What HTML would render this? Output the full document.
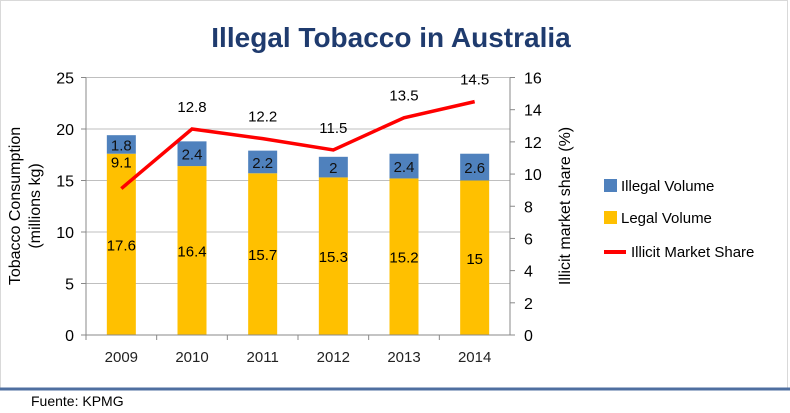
<!DOCTYPE html>
<html><head><meta charset="utf-8"><style>
body{margin:0;background:#fff;width:790px;height:408px;overflow:hidden;font-family:"Liberation Sans",sans-serif}
svg text{font-family:"Liberation Sans",sans-serif}
</style></head><body>
<svg width="790" height="408">
<rect x="0.5" y="0.5" width="787" height="388" fill="#fff" stroke="#d9d9d9"/>
<text x="391" y="47" text-anchor="middle" font-size="28" font-weight="bold" fill="#1f3b6e">Illegal Tobacco in Australia</text>
<g id="grid"></g><g id="bars"></g><g id="line"></g><g id="axes"></g>
<text transform="translate(20,206) rotate(-90)" text-anchor="middle" font-size="16" fill="#000">Tobacco Consumption</text>
<text transform="translate(40,206) rotate(-90)" text-anchor="middle" font-size="16" fill="#000">(millions kg)</text>
<text transform="translate(570,206) rotate(-90)" text-anchor="middle" font-size="16" fill="#000">Illicit market share (%)</text>
<rect x="604" y="179" width="13" height="13" fill="#4f81bd"/>
<text x="621" y="191" font-size="15">Illegal Volume</text>
<rect x="604" y="211" width="13" height="13" fill="#ffc000"/>
<text x="621" y="223" font-size="15">Legal Volume</text>
<line x1="604" y1="252" x2="626" y2="252" stroke="#ff0000" stroke-width="4"/>
<text x="631" y="257" font-size="15">Illicit Market Share</text>
<line x1="0" y1="389" x2="790" y2="389" stroke="#4f6fa0" stroke-width="3"/>
<text x="31" y="406" font-size="14">Fuente: KPMG</text>
</svg>
<script>
const years=["2009","2010","2011","2012","2013","2014"];
const legal=[17.6,16.4,15.7,15.3,15.2,15];
const illegal=[1.8,2.4,2.2,2,2.4,2.6];
const share=[9.1,12.8,12.2,11.5,13.5,14.5];
const leftTicks=[0,5,10,15,20,25];
const rightTicks=[0,2,4,6,8,10,12,14,16];
const NS="http://www.w3.org/2000/svg";
const X0=86,X1=510,Y0=335,Y1=77.5;
const cw=(X1-X0)/years.length;
const xc=i=>X0+cw*(i+0.5);
const yL=v=>Y0-(v/25)*(Y0-Y1);
const yR=v=>Y0-(v/16)*(Y0-Y1);
function mk(tag,attrs,parent,txt){const e=document.createElementNS(NS,tag);for(const k in attrs)e.setAttribute(k,attrs[k]);if(txt!==undefined)e.textContent=txt;document.getElementById(parent).appendChild(e);return e;}
leftTicks.forEach(t=>{
 if(t>0){const g=mk('line',{x1:X0,x2:X1,y1:yL(t),y2:yL(t),stroke:'#bfbfbf'},'grid');
 
 }
 const l=mk('text',{x:X0-12,y:yL(t)+6,'text-anchor':'end','font-size':16},'axes',t);
 
 
 const k=mk('line',{x1:X0-5,x2:X0,y1:yL(t),y2:yL(t),stroke:'#888'},'axes');
 
 
});
rightTicks.forEach(t=>{
 const l=mk('text',{x:X1+14,y:yR(t)+6,'text-anchor':'start','font-size':16},'axes',t);
 
 
 const k=mk('line',{x1:X1,x2:X1+5,y1:yR(t),y2:yR(t),stroke:'#888'},'axes');
 
 
});
[['x-axis',X0,Y0,X1,Y0],['y-axis',X0,Y1,X0,Y0],['y2-axis',X1,Y1,X1,Y0]].forEach(a=>{
 const l=mk('line',{x1:a[1],y1:a[2],x2:a[3],y2:a[4],stroke:'#888'},'axes');
 
 
});
const bw=29;
years.forEach((y,i)=>{
 const k=mk('line',{x1:X0+cw*i,x2:X0+cw*i,y1:Y0,y2:Y0+5,stroke:'#888'},'axes');
 
 
 const xl=mk('text',{x:xc(i),y:Y0+27,'text-anchor':'middle','font-size':15,fill:'#222'},'axes',y);
 
 
 const b1=mk('rect',{x:xc(i)-bw/2,y:yL(legal[i]),width:bw,height:Y0-yL(legal[i]),fill:'#ffc000'},'bars');
 
 
 const top=legal[i]+illegal[i];
 const b2=mk('rect',{x:xc(i)-bw/2,y:yL(top),width:bw,height:yL(legal[i])-yL(top),fill:'#4f81bd'},'bars');
 
 
 const t1=mk('text',{x:xc(i),y:yL(legal[i]/2)+6,'text-anchor':'middle','font-size':15},'bars',legal[i]);
 
 
 const t2=mk('text',{x:xc(i),y:(yL(top)+yL(legal[i]))/2+6,'text-anchor':'middle','font-size':15,fill:'#111'},'bars',illegal[i]);
 
 
 const sy=i===0?yR(share[i])-21:yR(share[i])-17;
 const t3=mk('text',{x:xc(i),y:sy,'text-anchor':'middle','font-size':15},'line',share[i]);
 
 
});
const p=mk('polyline',{points:share.map((v,i)=>xc(i)+','+yR(v)).join(' '),fill:'none',stroke:'#ff0000','stroke-width':3.5},'line');


</script>
</body></html>
